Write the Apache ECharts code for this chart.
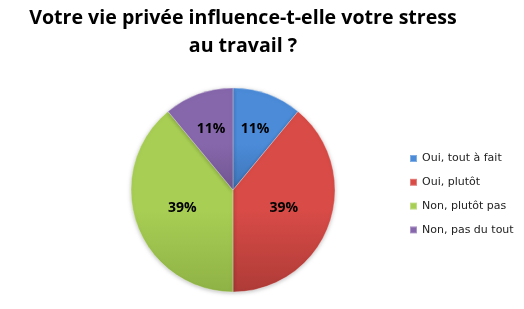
<!DOCTYPE html>
<html><head><meta charset="utf-8">
<script src="https://cdn.jsdelivr.net/npm/echarts@6/dist/echarts.min.js"></script>
<style>html,body{margin:0;padding:0;background:#fff}#c{width:524px;height:309px}</style>
</head><body><div id="c"></div>
<script>
const titleText = 'Votre vie privée influence-t-elle votre stress\nau travail ?';
const categories = ['Oui, tout à fait', 'Oui, plutôt', 'Non, plutôt pas', 'Non, pas du tout'];
const values = [11, 39, 39, 11];
const colorsTop = ['#4B8BD8', '#D84B47', '#A8CE54', '#8767AC'];
const colorsBottom = ['#3E74B6', '#AE3B37', '#8FB246', '#70558F'];

const grad = i => ({type: 'linear', x: 0, y: 0, x2: 0, y2: 1, colorStops: [
  {offset: 0, color: colorsTop[i]}, {offset: 0.55, color: colorsTop[i]}, {offset: 1, color: colorsBottom[i]}]});
const labelStyle = {position: 'inside', formatter: '{c}%', fontFamily: 'Open Sans', fontWeight: 'bold', fontSize: 14, color: '#000'};
const chart = echarts.init(document.getElementById('c'), null, {renderer: 'canvas'});
chart.setOption({
  animation: false,
  title: {
    text: titleText, left: 238, top: -1, textAlign: 'center',
    textStyle: {fontFamily: 'Open Sans', fontWeight: 'bold', fontSize: 19.6, color: '#000', lineHeight: 28}
  },
  legend: {
    orient: 'vertical', left: 404, top: 148, itemGap: 12.8, itemWidth: 7, itemHeight: 7, icon: 'rect',
    data: categories.map((c, i) => ({name: c, itemStyle: {color: colorsTop[i]}})),
    textStyle: {fontFamily: 'DejaVu Sans', fontSize: 11, color: '#222'}
  },
  series: [{
    type: 'pie', center: [233, 190], radius: 102, startAngle: 90, clockwise: true,
    data: categories.map((c, i) => ({name: c, value: values[i], itemStyle: {color: grad(i)},
      label: {show: values[i] > 20}})),
    itemStyle: {borderColor: 'rgba(255,255,255,0.3)', borderWidth: 1,
      shadowColor: 'rgba(0,0,0,0.25)', shadowBlur: 4, shadowOffsetY: 1},
    label: labelStyle,
    labelLine: {show: false},
    emphasis: {disabled: true}
  }, {
    type: 'pie', center: [233, 190], radius: [22, 102], startAngle: 90, clockwise: true,
    legendHoverLink: false, silent: true,
    data: categories.map((c, i) => ({name: c + ' ', value: values[i],
      itemStyle: {color: 'rgba(0,0,0,0)'}, label: {show: values[i] <= 20}})),
    label: labelStyle,
    labelLine: {show: false},
    emphasis: {disabled: true}
  }]
});
</script></body></html>
